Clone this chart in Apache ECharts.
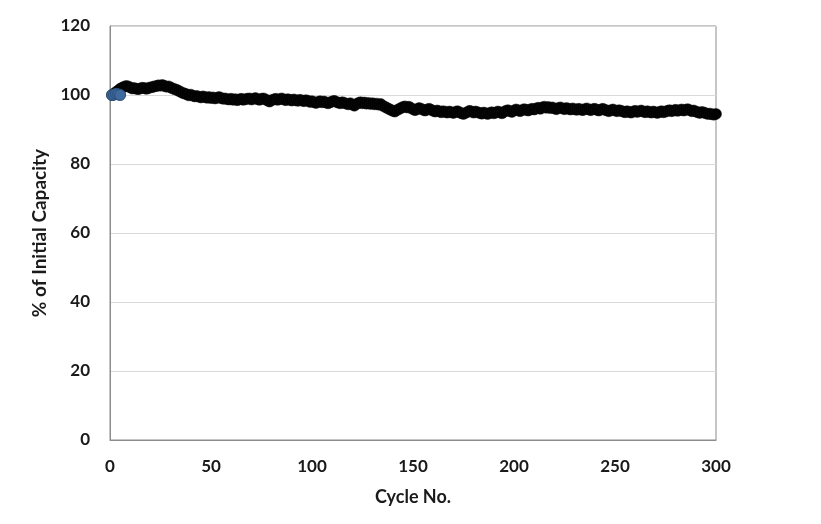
<!DOCTYPE html>
<html><head><meta charset="utf-8">
<script src="https://cdn.jsdelivr.net/npm/echarts@6/dist/echarts.min.js"></script>
<style>html,body{margin:0;padding:0;background:#fff}#c{width:821px;height:524px}</style>
</head><body><div id="c"></div>
<script>
const xTicks = [0, 50, 100, 150, 200, 250, 300];
const yTicks = [0, 20, 40, 60, 80, 100, 120];
const blueCycles = [1, 2, 3, 4, 5];
const blueValues = [100.0, 100.1, 100.3, 100.2, 100.0];
const blackValues = [
100.0,100.4,100.9,101.3,101.8,102.1,102.4,102.6,102.5,102.2,
101.9,102.0,101.8,101.7,101.9,102.1,102.0,101.8,102.0,102.2,
102.3,102.5,102.6,102.8,102.7,102.9,102.6,102.4,102.5,102.2,
101.9,101.7,101.5,101.2,100.9,100.6,100.4,100.2,99.9,100.1,
99.8,99.6,99.7,99.5,99.3,99.6,99.4,99.2,99.4,99.1,
99.3,99.0,99.2,99.4,99.1,98.9,99.0,98.8,98.7,98.9,
98.6,98.8,98.5,98.7,98.9,98.6,98.8,98.9,99.0,98.7,
98.9,99.1,98.8,98.6,98.9,99.0,98.7,98.4,98.1,98.5,
98.7,98.9,98.6,98.8,99.0,98.7,98.5,98.8,98.6,98.4,
98.7,98.5,98.3,98.6,98.4,98.2,98.5,98.3,98.0,98.2,
97.9,97.7,98.0,98.2,97.9,98.1,97.8,97.6,97.9,98.1,
98.3,98.0,97.8,97.6,97.9,97.7,97.5,97.3,97.6,97.2,
96.9,97.4,97.7,97.9,97.6,97.8,97.5,97.7,97.4,97.6,
97.3,97.5,97.2,97.4,96.9,96.6,96.3,96.0,95.7,95.4,
95.2,95.6,95.9,96.2,96.5,96.7,96.4,96.6,96.2,95.9,
95.6,95.9,96.2,96.0,95.7,95.5,95.8,96.0,95.7,95.4,
95.2,95.5,95.3,95.0,95.3,95.1,94.9,95.2,95.0,94.8,
95.1,95.3,95.0,94.7,94.5,94.8,95.1,95.4,95.2,94.9,
95.2,95.0,94.8,94.6,94.9,94.7,94.5,94.8,95.0,94.7,
94.9,95.2,95.0,94.7,95.1,95.4,95.6,95.3,95.1,95.5,
95.8,95.6,95.3,95.6,95.9,95.7,95.5,95.8,96.0,95.8,
96.1,96.3,96.0,96.4,96.6,96.3,96.5,96.2,96.4,96.1,
95.9,96.2,96.4,96.1,95.9,96.2,96.0,95.8,96.1,95.9,
95.7,96.0,95.8,95.6,95.9,96.1,95.8,95.6,95.9,96.0,
95.7,95.5,95.8,96.0,95.7,95.5,95.3,95.6,95.8,95.5,
95.3,95.6,95.4,95.2,95.0,95.3,95.1,94.9,95.2,95.4,
95.1,95.3,95.5,95.2,95.0,95.3,95.1,94.9,95.2,95.0,
94.8,95.1,95.3,95.0,95.2,95.4,95.6,95.3,95.5,95.7,
95.4,95.6,95.8,95.5,95.7,95.9,95.6,95.3,95.5,95.2,
95.0,94.8,95.1,94.9,94.7,94.5,94.6,94.4,94.3,94.5
];
const blackData = blackValues.map((v, i) => [i + 1, v]);
const blueData = blueValues.map((v, i) => [blueCycles[i], v]);
const font = 'Lato, "Open Sans", sans-serif';
const chart = echarts.init(document.getElementById('c'), null, {renderer: 'canvas'});
chart.setOption({
  animation: false,
  backgroundColor: '#fff',
  grid: {left: 110, right: 105, top: 26, bottom: 84, show: true, borderColor: '#8c8c8c', borderWidth: 1, containLabel: false},
  xAxis: {
    type: 'value', min: xTicks[0], max: xTicks[xTicks.length - 1], interval: 50,
    name: 'Cycle No.', nameLocation: 'middle', nameGap: 48,
    nameTextStyle: {fontFamily: font, fontWeight: 'bold', fontSize: 18, color: '#1a1a1a'},
    axisLine: {show: true, lineStyle: {color: '#8c8c8c'}},
    axisTick: {show: false},
    axisLabel: {margin: 18, fontFamily: font, fontWeight: 'bold', fontSize: 17, color: '#1a1a1a'},
    splitLine: {show: false}
  },
  yAxis: {
    type: 'value', min: yTicks[0], max: yTicks[yTicks.length - 1], interval: 20,
    name: '% of Initial Capacity', nameLocation: 'middle', nameGap: 58, nameRotate: 90,
    nameTextStyle: {fontFamily: font, fontWeight: 'bold', fontSize: 19, color: '#1a1a1a'},
    axisLine: {show: true, lineStyle: {color: '#8c8c8c'}},
    axisTick: {show: false},
    axisLabel: {margin: 20, fontFamily: font, fontWeight: 'bold', fontSize: 17, color: '#1a1a1a'},
    splitLine: {show: true, lineStyle: {color: '#d9d9d9', width: 1}}
  },
  series: [
    {type: 'scatter', data: blackData, symbol: 'circle', symbolSize: 11,
     itemStyle: {color: '#000', borderColor: '#111', borderWidth: 0.5, opacity: 1}},
    {type: 'scatter', data: blueData, symbol: 'circle', symbolSize: 11,
     itemStyle: {color: '#3e6a9e', borderColor: '#2b4e78', borderWidth: 1, opacity: 1}}
  ]
});
</script></body></html>
